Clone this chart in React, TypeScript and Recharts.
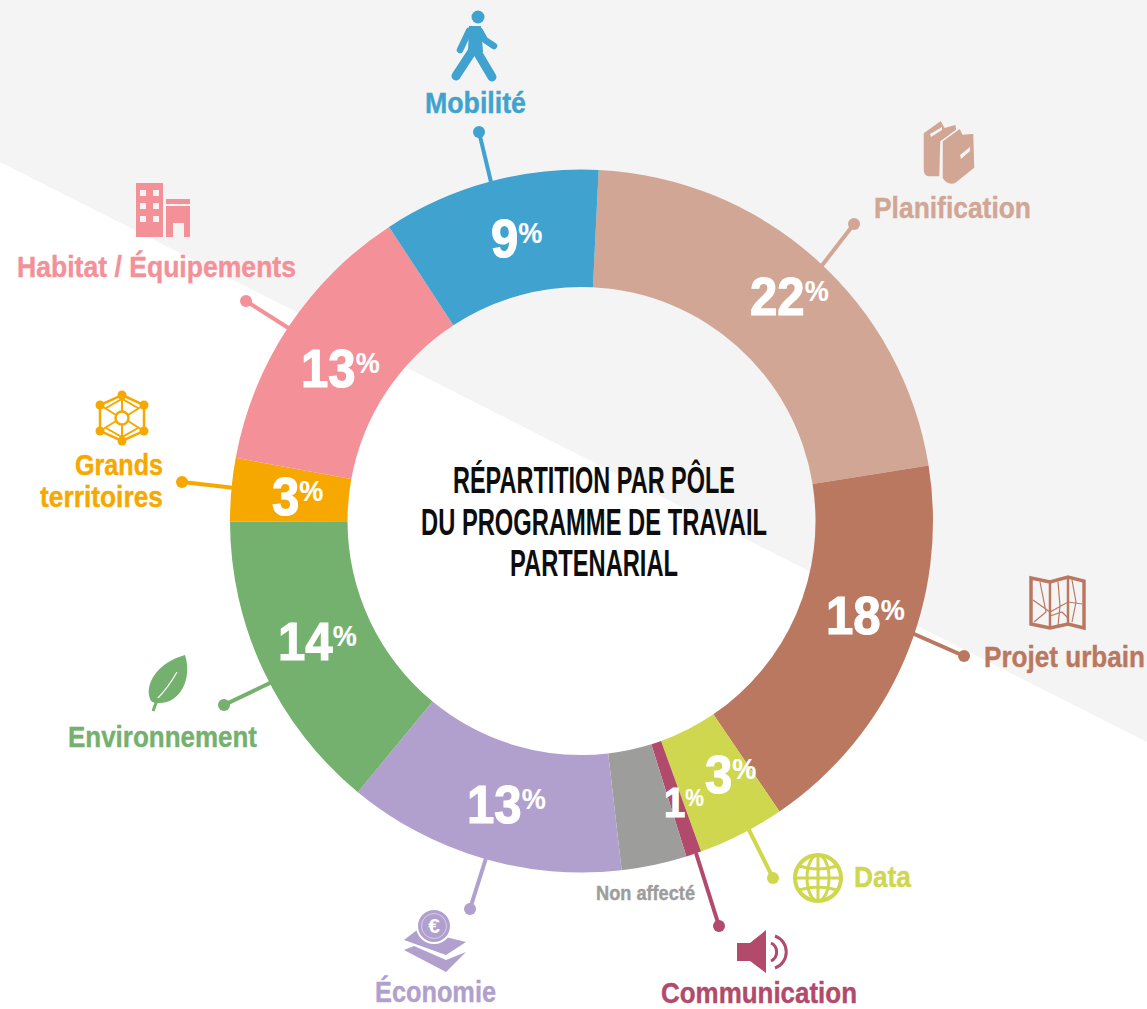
import React from "react";
import { PieChart, Pie, Cell } from "recharts";

const W = 1147;
const H = 1009;

const CATEGORIES = ["Planification", "Projet urbain", "Data", "Communication", "Non affecté", "Économie", "Environnement", "Grands territoires", "Habitat / Équipements", "Mobilité"];
const VALUES = [21.7, 18, 4, 0.7, 3, 12.8, 14, 2.9, 12.9, 10];
const PERCENT_TEXT = ["22", "18", "3", "1", "", "13", "14", "3", "13", "9"];
const COLORS = ["#d1a694", "#ba7861", "#cfd74e", "#b14a6b", "#9d9d9b", "#b1a0cd", "#74b06e", "#f7a800", "#f49097", "#40a2ce"];
const PERCENT_ANCHORS = [
  [750, 315, 54], [826, 634, 54], [705, 793, 54], [664, 817, 42], [0, 0, 0],
  [467, 823, 54], [278, 660, 54], [272, 515, 54], [301, 387, 54], [491, 257, 54],
];

const FONT = "'Liberation Sans', sans-serif";

const CAPTIONS: [string, number, number, number, number, string][] = [
  ["Mobilité", 425, 113, 101, 30, COLORS[9]],
  ["Planification", 874, 218, 157, 30, COLORS[0]],
  ["Projet urbain", 984, 667, 161, 30, COLORS[1]],
  ["Data", 854, 887, 57, 30, COLORS[2]],
  ["Communication", 661, 1003, 196, 30, COLORS[3]],
  ["Non affecté", 596, 900, 99, 20, COLORS[4]],
  ["Économie", 375, 1002, 121, 30, COLORS[5]],
  ["Environnement", 68, 747, 189, 30, COLORS[6]],
  ["Grands", 75, 475, 88, 30, COLORS[7]],
  ["territoires", 40, 507, 123, 30, COLORS[7]],
  ["Habitat / Équipements", 17, 277, 279, 30, COLORS[8]],
];

const TITLE: [string, number, number, number][] = [
  ["RÉPARTITION PAR PÔLE", 453, 493, 282],
  ["DU PROGRAMME DE TRAVAIL", 421, 535, 346],
  ["PARTENARIAL", 510, 576, 168],
];

const LEADERS: [number, number, number, number, string][] = [
  [479, 132, 491, 182, COLORS[9]],
  [854, 224, 820, 268, COLORS[0]],
  [964, 656, 905, 630, COLORS[1]],
  [773, 878, 748, 828, COLORS[2]],
  [719, 926, 696, 853, COLORS[3]],
  [470, 909, 486, 858, COLORS[5]],
  [224, 705, 272, 682, COLORS[6]],
  [182, 482, 235, 488, COLORS[7]],
  [246, 301, 290, 329, COLORS[8]],
];

const renderPercent = (props: any) => {
  const a = PERCENT_ANCHORS[props.index];
  const t = PERCENT_TEXT[props.index];
  if (!t) return <g />;
  const size = a[2];
  return (
    <text transform={`translate(${a[0]},${a[1]}) scale(0.91,1)`} x={0} y={0} fill="#fff" stroke="#fff" strokeWidth={1.2} fontFamily={FONT} fontWeight={700} fontSize={size} textAnchor="start">
      <tspan>{t}</tspan>
      <tspan fontSize={size * 0.55} dy={-size * 0.26} dx={0} strokeWidth={0.2}>%</tspan>
    </text>
  );
};

const Icons = () => (
  <g>
    {/* Mobilité */}
    <g fill={COLORS[9]} stroke={COLORS[9]} strokeLinecap="round" strokeLinejoin="round">
      <circle cx={478} cy={17} r={6.5} stroke="none" />
      <polygon points="469,26 481,26 483,52 468,52" stroke="none" />
      <polyline points="469,31 460,50" fill="none" strokeWidth={6.5} />
      <polyline points="480,31 485,40 494,46" fill="none" strokeWidth={6.5} />
      <polyline points="473,50 456,76" fill="none" strokeWidth={9} />
      <polyline points="476,50 492,77" fill="none" strokeWidth={9} />
    </g>
    {/* Planification */}
    <g fill={COLORS[0]} stroke="#f4f4f4" strokeWidth={1.5}>
      <path d="M923,133 L941,120 L945,127 L956,124 L957,130 L941,142 L940,177 L928,177 Q923,176 923,170 Z" />
      <path d="M942,141 L960,128 L963,134 L974,133 L975,168 L955,184 Q946,186 942,178 Z" />
      <polygon points="960,155 970,147 970,151 961,159" fill="#f4f4f4" stroke="none" />
      <polygon points="930,134 942,127 942,130 931,137" fill="#f4f4f4" stroke="none" />
    </g>
    {/* Projet urbain */}
    <g fill="none" stroke={COLORS[1]}>
      <polygon points="1031,578 1050,582 1068,577 1084,581 1084,628 1068,624 1050,628 1031,624" strokeWidth={3.5} />
      <path d="M1050,582 L1050,628 M1068,577 L1068,624" strokeWidth={2.5} />
      <path d="M1033,600 L1050,612 L1068,602 L1082,604 M1040,582 L1046,612 L1034,622 M1058,582 L1060,606 L1058,626 M1072,580 L1076,602 L1072,622 M1050,616 L1062,612 L1068,618" strokeWidth={1.2} />
    </g>
    {/* Data */}
    <g fill="none" stroke={COLORS[2]} strokeWidth={3}>
      <circle cx={818} cy={878} r={23} strokeWidth={4} />
      <ellipse cx={818} cy={878} rx={11} ry={23} />
      <path d="M818,855 L818,901 M795,878 L841,878 M799,866 Q818,872 837,866 M799,890 Q818,884 837,890" />
    </g>
    {/* Communication */}
    <g fill={COLORS[3]}>
      <polygon points="737,943 750,943 766,930 766,973 750,961 737,961" />
      <path d="M771,943 A10,10 0 0 1 771,961" fill="none" stroke={COLORS[3]} strokeWidth={3} />
      <path d="M775,936 A17,17 0 0 1 775,968" fill="none" stroke={COLORS[3]} strokeWidth={3} />
    </g>
    {/* Économie */}
    <g fill={COLORS[5]}>
      <polygon points="404,940 417,930 466,942 446,955" />
      <polygon points="404,950 414,946 446,960 466,952 446,972" />
      <circle cx={434} cy={926} r={17} stroke="#fff" strokeWidth={2} />
      <circle cx={434} cy={926} r={12.5} fill="none" stroke="#fff" strokeWidth={0.8} opacity={0.6} />
      <text x={434} y={933} fontFamily={FONT} fontWeight={700} fontSize={21} fill="#fff" textAnchor="middle">€</text>
    </g>
    {/* Environnement */}
    <g>
      <path d="M185,655 C160,662 147,680 149,695 C150,701 152,703 157,703 C179,705 193,680 185,655 Z" fill={COLORS[6]} />
      <path d="M177,672 Q168,688 157,699" fill="none" stroke="#fff" strokeWidth={1.2} />
      <path d="M158,698 L153,711" fill="none" stroke={COLORS[6]} strokeWidth={3} />
    </g>
    {/* Grands territoires */}
    <g fill="none" stroke={COLORS[7]} strokeWidth={2.5}>
      <polygon points="122,395 144,405 144,431 122,441 100,431 100,405" />
      <circle cx={122} cy={418} r={6.5} />
      <path d="M122,395 L122,411 M122,425 L122,441 M100,405 L116,415 M128,421 L144,431 M144,405 L128,415 M116,421 L100,431 M106,408 L122,399 L138,408 M138,428 L122,437 L106,428" strokeWidth={2} />
      <g fill={COLORS[7]} stroke="none">
        <circle cx={122} cy={395} r={4.5} />
        <circle cx={144} cy={405} r={4.5} />
        <circle cx={144} cy={431} r={4.5} />
        <circle cx={122} cy={441} r={4.5} />
        <circle cx={100} cy={431} r={4.5} />
        <circle cx={100} cy={405} r={4.5} />
      </g>
    </g>
    {/* Habitat */}
    <g fill={COLORS[8]}>
      <rect x={136} y={183} width={27} height={54} />
      <rect x={166} y={199} width={24} height={5} />
      <path d="M166,206 H190 V237 H184 V223 H173 V237 H166 Z" />
      <g fill="#f4f4f4">
        <rect x={140} y={190} width={6} height={6} /><rect x={153} y={190} width={6} height={6} />
        <rect x={140} y={203} width={6} height={6} /><rect x={153} y={203} width={6} height={6} />
        <rect x={140} y={216} width={6} height={6} /><rect x={153} y={216} width={6} height={6} />
      </g>
    </g>
  </g>
);

export default function App() {
  const data = CATEGORIES.map((name, i) => ({ name, value: VALUES[i] }));
  return (
    <div style={{ position: "absolute", left: 0, top: 0, width: W, height: H, overflow: "hidden", background: "#fff" }}>
      <svg width={W} height={H} style={{ position: "absolute", left: 0, top: 0 }}>
        <polygon points={`0,0 ${W},0 ${W},742 0,162`} fill="#f4f4f4" />
      </svg>
      <div style={{ position: "absolute", left: 0, top: 0 }}>
        <PieChart width={W} height={H} margin={{ top: 0, right: 0, bottom: 0, left: 0 }}>
          <Pie
            data={data}
            dataKey="value"
            nameKey="name"
            cx={581.5}
            cy={521}
            outerRadius={351.5}
            innerRadius={234}
            startAngle={87.2}
            endAngle={-272.8}
            paddingAngle={0}
            stroke="none"
            isAnimationActive={false}
            label={renderPercent}
            labelLine={false}
          >
            {data.map((d, i) => (
              <Cell key={d.name} fill={COLORS[i]} />
            ))}
          </Pie>
        </PieChart>
      </div>
      <svg width={W} height={H} style={{ position: "absolute", left: 0, top: 0, pointerEvents: "none" }}>
        {LEADERS.map(([x1, y1, x2, y2, c], i) => (
          <g key={i}>
            <line x1={x1} y1={y1} x2={x2} y2={y2} stroke={c} strokeWidth={4} />
            <circle cx={x1} cy={y1} r={6} fill={c} />
          </g>
        ))}
        <Icons />
        {CAPTIONS.map(([t, x, y, w, s, c]) => (
          <text key={t} x={x} y={y} fontFamily={FONT} fontWeight={700} fontSize={s} fill={c} stroke={c} strokeWidth={0.4} textLength={w} lengthAdjust="spacingAndGlyphs">{t}</text>
        ))}
        {TITLE.map(([t, x, y, w]) => (
          <text key={t} x={x} y={y} fontFamily={FONT} fontWeight={700} fontSize={36} fill="#0d0d0d" textLength={w} lengthAdjust="spacingAndGlyphs">{t}</text>
        ))}
      </svg>
    </div>
  );
}
